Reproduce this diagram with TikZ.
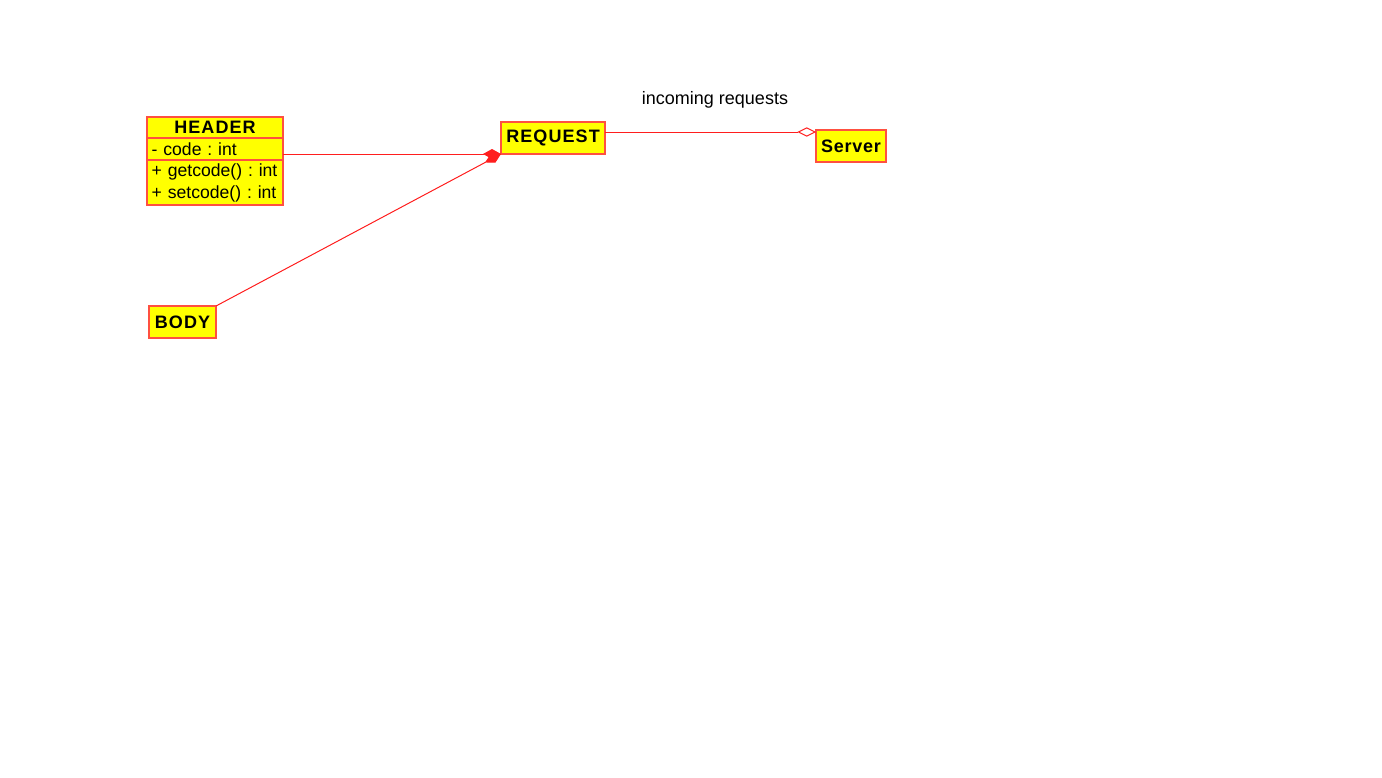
\documentclass[tikz,border=0pt]{standalone}
\usepackage{fontspec}
\setmainfont{Liberation Sans}
\usetikzlibrary{arrows.meta}
\definecolor{umlborder}{RGB}{255,80,64}
\definecolor{umlline}{RGB}{255,30,30}
\definecolor{umlfill}{RGB}{255,255,0}
\newcommand{\pxu}{0.75pt}

\begin{document}
\begin{tikzpicture}[x=\pxu,y=-\pxu,
	umlbox/.style={draw=umlborder,fill=umlfill,line width=1.5pt,inner sep=0,outer sep=0},
	classname/.style={umlbox,font=\fontsize{13.5}{16}\selectfont\bfseries\addfontfeature{LetterSpace=6}},
	classpart/.style={umlbox,inner xsep=3.5pt,text width=95pt,align=left,font=\fontsize{13.2}{16.5}\selectfont\frenchspacing},
	link/.style={draw=umlline,line width=0.75pt}]
	\useasboundingbox (0,0) rectangle (1382,778);
	% classes
	\node[classname,minimum width=102pt,minimum height=15.75pt] (header) at (215,127.5) {HEADER};
	\node[classpart,minimum height=16.5pt] (headerattr) at (215,149) {- code : int};
	\node[classpart,minimum height=33.75pt] (headerops) at (215,182.5) {+ getcode() : int\\+ setcode() : int};
	\node[classname,minimum width=78pt,minimum height=24pt] (request) at (553,138) {REQUEST};
	\node[classname,minimum width=52.5pt,minimum height=24pt,font=\fontsize{13.5}{16}\selectfont\bfseries\addfontfeature{LetterSpace=4}] (server) at (851,146) {Server};
	\node[classname,minimum width=50.25pt,minimum height=24pt] (body) at (182.5,322) {BODY};
	\node[font=\fontsize{13.5}{16}\selectfont] (incoming) at (715,100) {incoming requests};
	% relations
	\draw[link,-{Diamond[length=13.5pt,width=7.5pt,fill=umlline]}] (headerattr.east |- request.south west) -- (request.south west);
	\draw[link,-{Diamond[length=13.5pt,width=7.5pt,fill=umlline]}] (body.north east) -- (request.south west);
	\draw[link,-{Diamond[length=14pt,width=7pt,open]}] ([yshift=-7.5pt]request.north east) -- ([yshift=-1.5pt]server.north west);
\end{tikzpicture}
\end{document}
